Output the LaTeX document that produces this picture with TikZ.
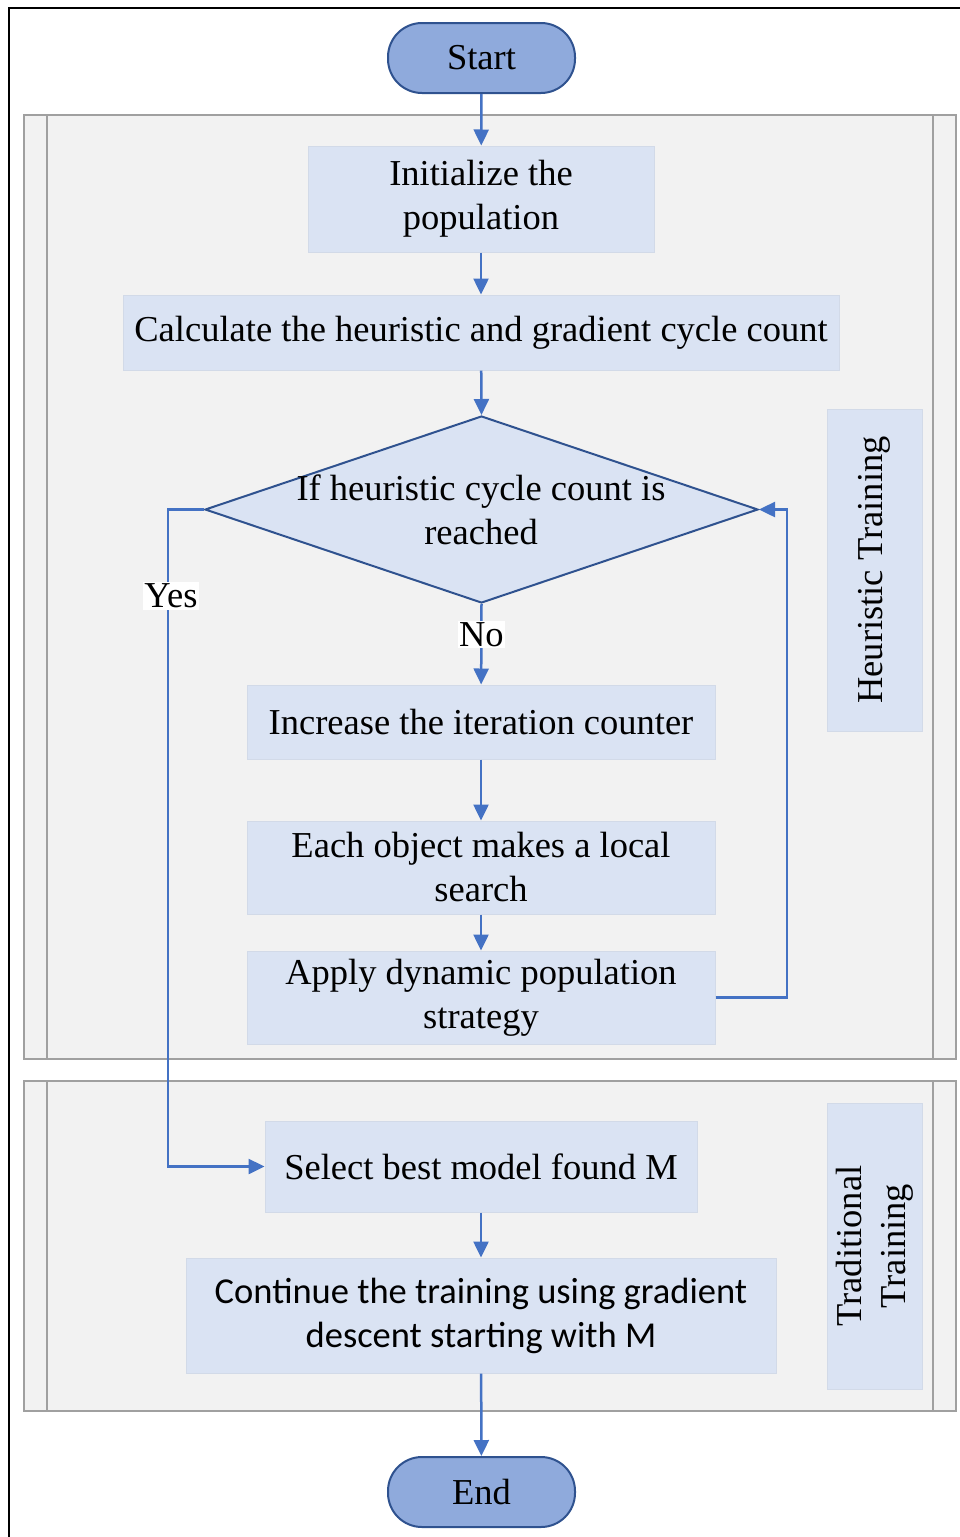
\documentclass[tikz,border=0pt]{standalone}
\usepackage{fontspec}
\setmainfont{Liberation Serif}
\newfontfamily\bodysans{Carlito}
\usetikzlibrary{shapes.geometric,arrows.meta}
\definecolor{panelfill}{HTML}{F2F2F2}
\definecolor{panelline}{HTML}{A0A0A0}
\definecolor{boxfill}{HTML}{DAE3F3}
\definecolor{boxline}{HTML}{D2DAE8}
\definecolor{termfill}{HTML}{8FAADC}
\definecolor{termline}{HTML}{2F528F}
\definecolor{flow}{HTML}{4472C4}
\tikzset{
  x=1pt, y=-1pt,
  bodyfont/.style={font=\fontsize{36.5}{44}\selectfont},
  stepbox/.style={draw=boxline, line width=1pt, fill=boxfill, inner sep=0pt,
    align=center, bodyfont},
  terminal/.style={draw=termline, line width=2pt, fill=termfill, rounded corners=34pt,
    minimum width=187pt, minimum height=70pt, inner sep=0pt, bodyfont},
  flowline/.style={draw=flow, line width=2.5pt, -{Triangle[length=16pt,width=15pt]}},
  tag/.style={fill=white, inner sep=1.5pt, bodyfont},
  panel/.style={draw=panelline, line width=1.5pt, fill=panelfill},
}
\begin{document}
\begin{tikzpicture}
\useasboundingbox (0,0) rectangle (960,1537);
\fill[white] (0,0) rectangle (960,1537);
% outer frame
\draw[line width=2.5pt] (9,1537) -- (9,8) -- (960,8);

% panels
\path[panel] (24,115) rectangle (956,1059);
\draw[panelline, line width=1.5pt] (47,115) -- (47,1059) (933,115) -- (933,1059);
\path[panel] (24,1081) rectangle (956,1411);
\draw[panelline, line width=1.5pt] (47,1081) -- (47,1411) (933,1081) -- (933,1411);

% side labels
\node[stepbox, minimum width=95pt, minimum height=322pt] (heur) at (874.5,570) {};
\node[rotate=90, bodyfont] (heurtxt) at (874.5,570) {Heuristic Training};
\node[stepbox, minimum width=95pt, minimum height=286pt] (trad) at (874.5,1246) {};
\node[rotate=90, align=center, bodyfont] (tradtxt) at (874.5,1246) {Traditional\\Training};

% terminals
\node[terminal] (start) at (481.5,58) {Start};
\node[terminal] (end) at (481.5,1492) {End};

% process steps
\node[stepbox, minimum width=346pt, minimum height=106pt] (init) at (481,199) {Initialize the\\population};
\node[stepbox, minimum width=716pt, minimum height=75pt] (calc) at (481,332.5) {Calculate the heuristic and gradient cycle count};
\node[draw=termline, line width=2pt, fill=boxfill, diamond, inner sep=0pt,
      minimum width=553pt, minimum height=187pt] (cond) at (481.5,509.5) {};
\node[align=center, bodyfont] (condtxt) at (481,510) {If heuristic cycle count is\\reached};
\node[stepbox, minimum width=468pt, minimum height=74pt] (incr) at (481,722) {Increase the iteration counter};
\node[stepbox, minimum width=468pt, minimum height=93pt] (local) at (481,867.5) {Each object makes a local\\search};
\node[stepbox, minimum width=468pt, minimum height=93pt] (dyn) at (481,997.5) {Apply dynamic population\\strategy};
\node[stepbox, minimum width=432pt, minimum height=91pt] (best) at (481,1166.5) {Select best model found M};
\node[stepbox, minimum width=590pt, minimum height=115pt, font=\bodysans\fontsize{36.5}{44}\selectfont] (cont) at (481,1315.5) {Continue the training using gradient\\descent starting with M};

% corner points of the side loops
\coordinate (loopR1) at (787,997.5);
\coordinate (loopR2) at (787,509.5);
\coordinate (loopL1) at (168,509.5);
\coordinate (loopL2) at (168,1166.5);
\coordinate (yespos) at (171,596);

% connectors
\draw[flowline] (start) -- (init);
\draw[flowline] (init) -- (calc);
\draw[flowline] (calc) -- (cond.north);
\draw[flowline] (cond.south) -- node[tag, pos=0.38] (no) {No} (incr);
\draw[flowline] (incr) -- (local);
\draw[flowline] (local) -- (dyn);
\draw[flowline] (dyn.east) -- (loopR1) -- (loopR2) -- (cond.east);
\draw[flowline] (cond.west) -- (loopL1) -- (loopL2) -- (best.west);
\node[tag] (yes) at (yespos) {Yes};
\draw[flowline] (best) -- (cont);
\draw[flowline] (cont) -- (end);
\end{tikzpicture}
\end{document}
